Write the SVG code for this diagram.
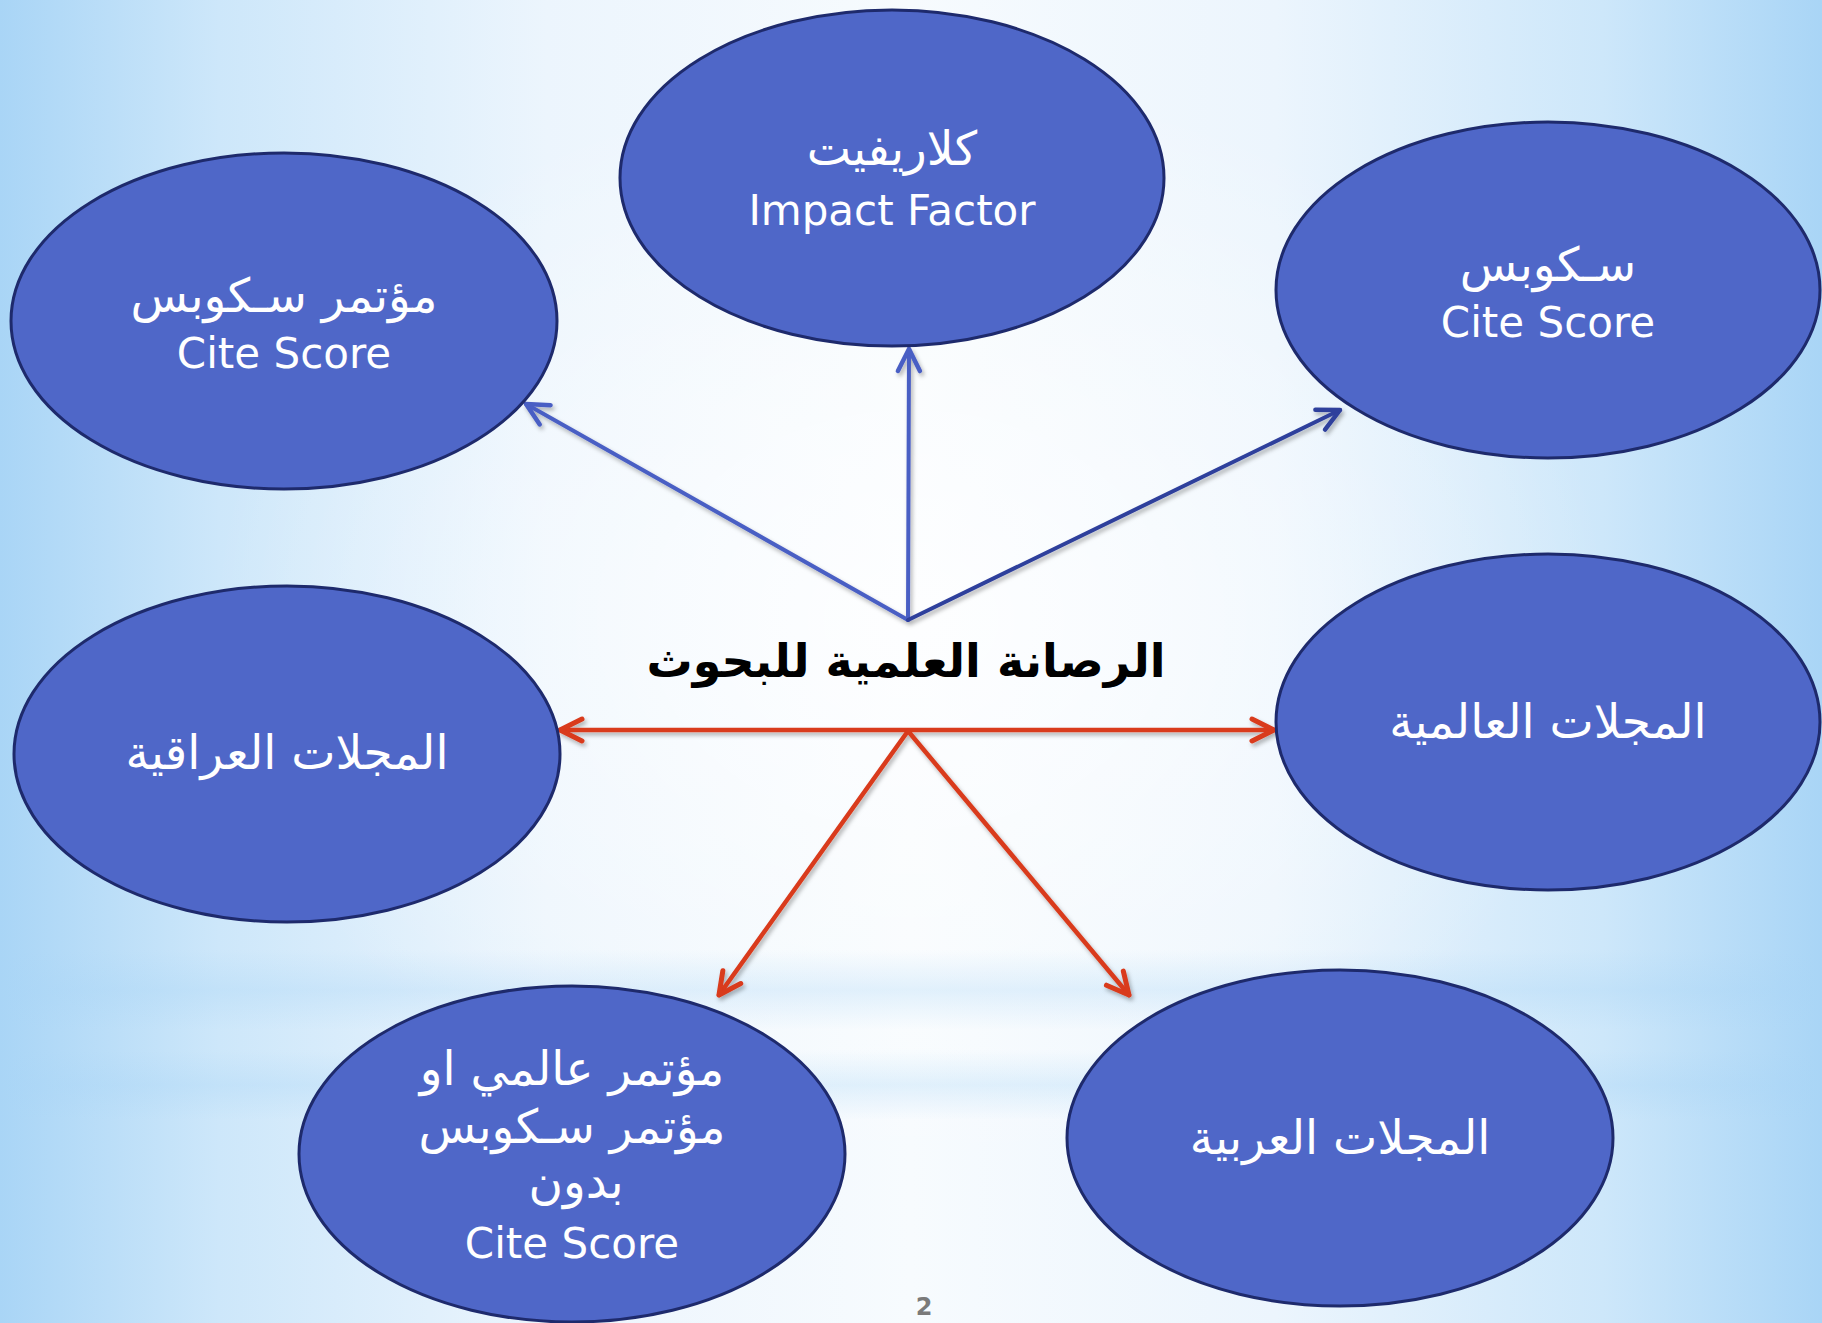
<svg xmlns="http://www.w3.org/2000/svg" width="1822" height="1323" viewBox="0 0 1822 1323">
<style>
.node{fill:#4f67c8;stroke:#1e2a6c;stroke-width:3}
.lbl{font-family:"DejaVu Sans",sans-serif;font-size:42px;fill:#ffffff;text-anchor:middle}
.ar{font-size:47px}
.title{font-family:"DejaVu Sans",sans-serif;font-size:46px;font-weight:bold;fill:#000000;text-anchor:middle}
.blue{stroke:#4a5ec4;stroke-width:4;fill:none;stroke-linecap:round}
.navy{stroke:#2e3f9c;stroke-width:4;fill:none;stroke-linecap:round}
.red{stroke:#d93a1c;stroke-width:4.5;fill:none;stroke-linecap:round}
</style>
<defs>
<linearGradient id="bgH" x1="0" y1="0" x2="1" y2="0">
<stop offset="0" stop-color="#a9d5f6"/>
<stop offset="0.12" stop-color="#cde7fa"/>
<stop offset="0.3" stop-color="#ecf5fd"/>
<stop offset="0.5" stop-color="#f7fbfe"/>
<stop offset="0.7" stop-color="#ecf5fd"/>
<stop offset="0.88" stop-color="#cde7fa"/>
<stop offset="1" stop-color="#a9d5f6"/>
</linearGradient>
<radialGradient id="glow" cx="0.5" cy="0.5" r="0.5">
<stop offset="0" stop-color="#ffffff" stop-opacity="0.8"/>
<stop offset="1" stop-color="#ffffff" stop-opacity="0"/>
</radialGradient>
<linearGradient id="band" x1="0" y1="0" x2="0" y2="1">
<stop offset="0" stop-color="#a9d5f6" stop-opacity="0"/>
<stop offset="0.5" stop-color="#a9d5f6" stop-opacity="0.3"/>
<stop offset="1" stop-color="#a9d5f6" stop-opacity="0"/>
</linearGradient>
<filter id="sh" x="-10%" y="-10%" width="120%" height="120%">
<feDropShadow dx="2" dy="3" stdDeviation="2" flood-color="#000" flood-opacity="0.3"/>
</filter>
<marker id="ab" markerUnits="userSpaceOnUse" markerWidth="40" markerHeight="40" viewBox="-30 -20 40 40" refX="0" refY="0" orient="auto-start-reverse">
<path d="M -22 -11 L 0 0 L -22 11" fill="none" stroke="#4a5ec4" stroke-width="4.5" stroke-linecap="round" stroke-linejoin="round"/>
</marker>
<marker id="an" markerUnits="userSpaceOnUse" markerWidth="40" markerHeight="40" viewBox="-30 -20 40 40" refX="0" refY="0" orient="auto-start-reverse">
<path d="M -22 -11 L 0 0 L -22 11" fill="none" stroke="#2e3f9c" stroke-width="4.5" stroke-linecap="round" stroke-linejoin="round"/>
</marker>
<marker id="ar" markerUnits="userSpaceOnUse" markerWidth="40" markerHeight="40" viewBox="-30 -20 40 40" refX="0" refY="0" orient="auto-start-reverse">
<path d="M -22 -11 L 0 0 L -22 11" fill="none" stroke="#d93a1c" stroke-width="5" stroke-linecap="round" stroke-linejoin="round"/>
</marker>
</defs>
<g id="background">
<rect x="0" y="0" width="1822" height="1323" fill="url(#bgH)"/>
<ellipse cx="911" cy="620" rx="700" ry="560" fill="url(#glow)"/>
<rect x="0" y="950" width="1822" height="80" fill="url(#band)"/>
<rect x="0" y="1050" width="1822" height="70" fill="url(#band)"/>
</g>
<g id="connectors" filter="url(#sh)">
<line class="blue" x1="908" y1="620" x2="526" y2="404" marker-end="url(#ab)"/>
<line class="blue" x1="908" y1="620" x2="909" y2="349" marker-end="url(#ab)"/>
<line class="navy" x1="908" y1="620" x2="1340" y2="410" marker-end="url(#an)"/>
<line class="red" x1="560" y1="730" x2="1274" y2="730" marker-start="url(#ar)" marker-end="url(#ar)"/>
<line class="red" x1="908" y1="731" x2="719" y2="995" marker-end="url(#ar)"/>
<line class="red" x1="908" y1="731" x2="1129" y2="995" marker-end="url(#ar)"/>
</g>
<g id="title">
<text class="title" x="906" y="677" direction="rtl">الرصانة العلمية للبحوث</text>
</g>
<g id="node-scopus-conf">
<ellipse class="node" cx="284" cy="321" rx="273" ry="168"/>
<text class="lbl ar" x="284" y="312" direction="rtl">مؤتمر سـكوبس</text>
<text class="lbl" x="284" y="368">Cite Score</text>
</g>
<g id="node-clarivate">
<ellipse class="node" cx="892" cy="178" rx="272" ry="168"/>
<text class="lbl ar" x="892" y="165" direction="rtl">كلاريفيت</text>
<text class="lbl" x="892" y="225">Impact Factor</text>
</g>
<g id="node-scopus">
<ellipse class="node" cx="1548" cy="290" rx="272" ry="168"/>
<text class="lbl ar" x="1548" y="281" direction="rtl">سـكوبس</text>
<text class="lbl" x="1548" y="337">Cite Score</text>
</g>
<g id="node-iraqi">
<ellipse class="node" cx="287" cy="754" rx="273" ry="168"/>
<text class="lbl ar" x="287" y="769" direction="rtl">المجلات العراقية</text>
</g>
<g id="node-global">
<ellipse class="node" cx="1548" cy="722" rx="272" ry="168"/>
<text class="lbl ar" x="1548" y="738" direction="rtl">المجلات العالمية</text>
</g>
<g id="node-conf">
<ellipse class="node" cx="572" cy="1154" rx="273" ry="168"/>
<text class="lbl ar" x="572" y="1085" direction="rtl">مؤتمر عالمي او</text>
<text class="lbl ar" x="572" y="1143" direction="rtl">مؤتمر سـكوبس</text>
<text class="lbl ar" x="576" y="1198" direction="rtl">بدون</text>
<text class="lbl" x="572" y="1258">Cite Score</text>
</g>
<g id="node-arab">
<ellipse class="node" cx="1340" cy="1138" rx="273" ry="168"/>
<text class="lbl ar" x="1340" y="1154" direction="rtl">المجلات العربية</text>
</g>
<g id="page-number">
<text x="924" y="1315" font-family="DejaVu Sans, sans-serif" font-size="24" font-weight="bold" fill="#7a7a7a" text-anchor="middle">2</text>
</g>
</svg>
